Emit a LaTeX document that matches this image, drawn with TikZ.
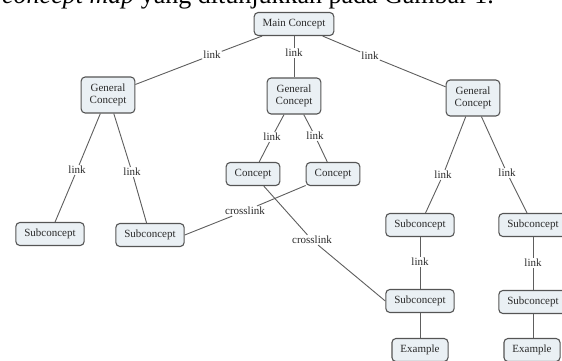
\documentclass[tikz,border=0pt]{standalone}
\usepackage{fontspec}
\setmainfont{Liberation Serif}
\usepackage{xcolor}
\usepackage{tikz}

\definecolor{boxfill}{HTML}{EAF0F4}
\definecolor{boxline}{HTML}{555555}
\definecolor{linkline}{HTML}{5E5E5E}
\definecolor{inktext}{HTML}{2A2A2A}

\begin{document}
\begin{tikzpicture}[x=1pt,y=-1pt,
  concept/.style={draw=boxline, fill=boxfill, line width=1.1pt, rounded corners=4pt,
    inner xsep=8.5pt, minimum height=23pt, align=center, text=inktext,
    font=\fontsize{11}{12.5}\selectfont},
  general/.style={concept, minimum height=36pt},
  linklabel/.style={fill=white, inner sep=1pt, text=inktext, font=\fontsize{11}{12.5}\selectfont},
  link/.style={draw=linkline, line width=0.9pt}]

\useasboundingbox (0,0) rectangle (562,361);

% Caption line, cut off at the top
\node[anchor=base west, inner sep=0, font=\fontsize{26}{30}\selectfont] (caption) at (2,4)
  {\textit{concept map} yang ditunjukkan pada Gambar 1.};

% Draw concepts
\node[concept] (main) at (294,24) {Main Concept};
\node[general] (gen1) at (108,95) {General\\Concept};
\node[general] (gen2) at (294,96) {General\\Concept};
\node[general] (gen3) at (473,98) {General\\Concept};
\node[concept] (con1) at (253,174) {Concept};
\node[concept] (con2) at (333,174) {Concept};
\node[concept] (sub1) at (50,234) {Subconcept};
\node[concept] (sub2) at (150,235) {Subconcept};
\node[concept] (sub3) at (420,225) {Subconcept};
\node[concept] (sub4) at (533,225) {Subconcept};
\node[concept] (sub5) at (420,301) {Subconcept};
\node[concept] (sub6) at (533,302) {Subconcept};
\node[concept] (ex1) at (420,350) {Example};
\node[concept] (ex2) at (532,350) {Example};

% Draw link labels
\node[linklabel] (l1) at (212,55) {link};
\node[linklabel] (l2) at (294,53) {link};
\node[linklabel] (l3) at (370,56) {link};
\node[linklabel] (l4) at (77,170) {link};
\node[linklabel] (l5) at (132,172) {link};
\node[linklabel] (l6) at (272,137) {link};
\node[linklabel] (l7) at (315,136) {link};
\node[linklabel] (l8) at (443,175) {link};
\node[linklabel] (l9) at (507,173) {link};
\node[linklabel] (l10) at (420,262) {link};
\node[linklabel] (l11) at (533,263) {link};
\node[linklabel] (cl1) at (245,211) {crosslink};
\node[linklabel] (cl2) at (312,240) {crosslink};

% Draw links
\draw[link] (main) -- (l1) -- (gen1);
\draw[link] (main) -- (l2) -- (gen2);
\draw[link] (main) -- (l3) -- (gen3);
\draw[link] (gen1) -- (l4) -- (sub1);
\draw[link] (gen1) -- (l5) -- (sub2);
\draw[link] (gen2) -- (l6) -- (con1);
\draw[link] (gen2) -- (l7) -- (con2);
\draw[link] (gen3) -- (l8) -- (sub3);
\draw[link] (gen3) -- (l9) -- (sub4);
\draw[link] (sub3) -- (l10) -- (sub5);
\draw[link] (sub4) -- (l11) -- (sub6);
\draw[link] (sub5) -- (ex1);
\draw[link] (sub6.south) -- (sub6.south |- ex2.north);

% Draw crosslinks
\draw[link] (con2) -- (cl1) -- (sub2.east);
\draw[link] (con1) -- (cl2) -- (sub5.west);

\end{tikzpicture}
\end{document}
